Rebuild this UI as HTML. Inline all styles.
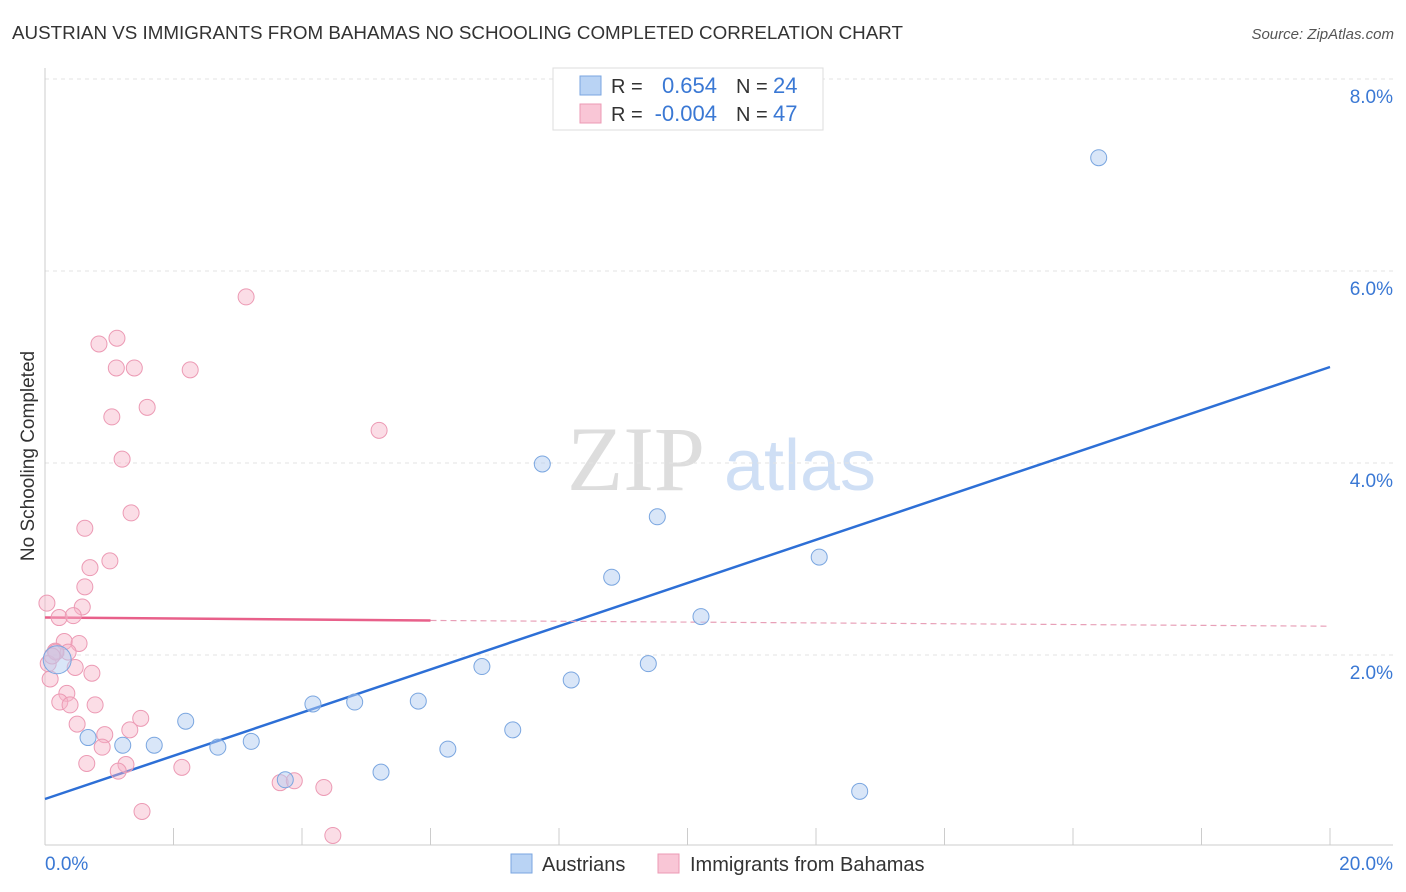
<!DOCTYPE html>
<html><head><meta charset="utf-8"><style>
body{margin:0;background:#fff;font-family:"Liberation Sans",sans-serif;}
svg{display:block}
</style></head><body>
<svg id="chart" width="1406" height="892">
<text x="12" y="39" font-size="18" fill="#333" textLength="891" lengthAdjust="spacingAndGlyphs">AUSTRIAN VS IMMIGRANTS FROM BAHAMAS NO SCHOOLING COMPLETED CORRELATION CHART</text>
<text x="1394" y="39" font-size="15" fill="#555" text-anchor="end" font-style="italic">Source: ZipAtlas.com</text>
<text x="34" y="456" font-size="19" fill="#333" text-anchor="middle" transform="rotate(-90 34 456)">No Schooling Completed</text>
<g><text x="636" y="490" font-size="92" fill="#ddd" font-family="Liberation Serif,serif" text-anchor="middle">ZIP</text><text x="800" y="490" font-size="72" fill="#cfdff5" text-anchor="middle">atlas</text></g>
<g id="grid"></g><g id="axes"></g><g id="trends"></g><g id="points"></g>
<g>
<rect x="553" y="68" width="270" height="62" fill="#fff" stroke="#ddd"/>
<rect x="580" y="76" width="21" height="19" fill="#b9d3f4" stroke="#7aa6e0"/>
<rect x="580" y="104" width="21" height="19" fill="#f9c6d6" stroke="#ec9ab4"/>
<text x="611" y="93" font-size="20" fill="#333">R =</text><text x="717" y="93" font-size="22" fill="#3a78d4" text-anchor="end">0.654</text>
<text x="736" y="93" font-size="20" fill="#333">N =</text><text x="773" y="93" font-size="22" fill="#3a78d4">24</text>
<text x="611" y="121" font-size="20" fill="#333">R =</text><text x="717" y="121" font-size="22" fill="#3a78d4" text-anchor="end">-0.004</text>
<text x="736" y="121" font-size="20" fill="#333">N =</text><text x="773" y="121" font-size="22" fill="#3a78d4">47</text>
</g>
<g>
<rect x="511" y="854" width="21" height="19" fill="#b9d3f4" stroke="#7aa6e0"/>
<text x="542" y="871" font-size="20" fill="#333">Austrians</text>
<rect x="658" y="854" width="21" height="19" fill="#f9c6d6" stroke="#ec9ab4"/>
<text x="690" y="871" font-size="20" fill="#333">Immigrants from Bahamas</text>
</g>
</svg>
<script>
const xTicks=[0,2,4,6,8,10,12,14,16,18,20];
const yTicks=[2,4,6,8];
const yTickLabels=["2.0%","4.0%","6.0%","8.0%"];
const blueX=[16.40,7.74,9.53,12.05,8.82,10.21,6.80,9.39,8.19,5.81,4.82,4.17,2.19,7.28,0.67,1.21,1.70,3.21,2.69,6.27,5.23,3.74,12.68,0.19];
const blueY=[7.18,3.99,3.44,3.02,2.81,2.40,1.88,1.91,1.74,1.52,1.51,1.49,1.31,1.22,1.14,1.06,1.06,1.10,1.04,1.02,0.78,0.70,0.58,1.95];
const pinkX=[3.13,1.12,0.84,1.11,1.39,2.26,1.59,1.04,5.20,1.20,1.34,0.62,1.01,0.70,0.62,0.03,0.58,0.22,0.44,0.30,0.53,0.16,0.36,0.05,0.47,0.73,0.08,0.34,0.23,0.39,0.78,0.50,1.49,1.32,0.93,0.89,0.65,1.26,1.14,2.13,3.66,3.88,4.34,1.51,4.48,0.17,0.11];
const pinkY=[5.73,5.30,5.24,4.99,4.99,4.97,4.58,4.48,4.34,4.04,3.48,3.32,2.98,2.91,2.71,2.54,2.50,2.39,2.41,2.14,2.12,2.04,2.03,1.91,1.87,1.81,1.75,1.60,1.51,1.48,1.48,1.28,1.34,1.22,1.17,1.04,0.87,0.86,0.79,0.83,0.67,0.69,0.62,0.37,0.12,2.03,1.99];
const blueTrend=[[0,0.50],[20,5.0]];
const pinkTrend=[[0,2.39],[6,2.36],[20,2.30]];
const NS="http://www.w3.org/2000/svg";
const X=v=>45+v*64.25, Y=v=>847-v*96;
function mk(tag,attrs,parent){const e=document.createElementNS(NS,tag);for(const k in attrs)e.setAttribute(k,attrs[k]);document.getElementById(parent).appendChild(e);return e;}
yTicks.forEach((t,i)=>{
 const g=mk('line',{x1:45,x2:1393,y1:Y(t),y2:Y(t),stroke:'#e3e3e3','stroke-dasharray':'4 4'},'grid');
 
 
 const l=mk('text',{x:1393,y:Y(t)+24,'font-size':19,fill:'#3a78d4','text-anchor':'end'},'grid');
 l.textContent=yTickLabels[i];
 
 
});
const a=mk('line',{x1:45,x2:1393,y1:845,y2:845,stroke:'#ccc'},'axes');


const ay=mk('line',{x1:45,x2:45,y1:68,y2:845,stroke:'#ccc'},'axes');


xTicks.forEach(t=>{const e=mk('line',{x1:X(t),x2:X(t),y1:828,y2:845,stroke:'#ccc'},'axes');
 
 });
const x0=mk('text',{x:45,y:870,'font-size':19,fill:'#3a78d4'},'axes');x0.textContent='0.0%';


const x1=mk('text',{x:1393,y:870,'font-size':19,fill:'#3a78d4','text-anchor':'end'},'axes');x1.textContent='20.0%';


const bt=mk('line',{x1:X(blueTrend[0][0]),y1:Y(blueTrend[0][1]),x2:X(blueTrend[1][0]),y2:Y(blueTrend[1][1]),stroke:'#2d6fd6','stroke-width':2.5},'trends');


const pt=mk('line',{x1:X(pinkTrend[0][0]),y1:Y(pinkTrend[0][1]),x2:X(pinkTrend[1][0]),y2:Y(pinkTrend[1][1]),stroke:'#e8608a','stroke-width':2.5},'trends');


const pd=mk('line',{x1:X(pinkTrend[1][0]),y1:Y(pinkTrend[1][1]),x2:X(pinkTrend[2][0]),y2:Y(pinkTrend[2][1]),stroke:'#e8a0b8','stroke-width':1.2,'stroke-dasharray':'6 4'},'trends');


pinkX.forEach((v,i)=>{const c=mk('circle',{cx:X(v),cy:Y(pinkY[i]),r:8,fill:'rgba(246,180,200,0.45)',stroke:'#ec9ab4','stroke-width':1},'points');
 
 });
blueX.forEach((v,i)=>{const c=mk('circle',{cx:X(v),cy:Y(blueY[i]),r:i==blueX.length-1?14:8,fill:'rgba(180,205,242,0.5)',stroke:'#7aa6e0','stroke-width':1},'points');
 
 });
</script>
</body></html>
